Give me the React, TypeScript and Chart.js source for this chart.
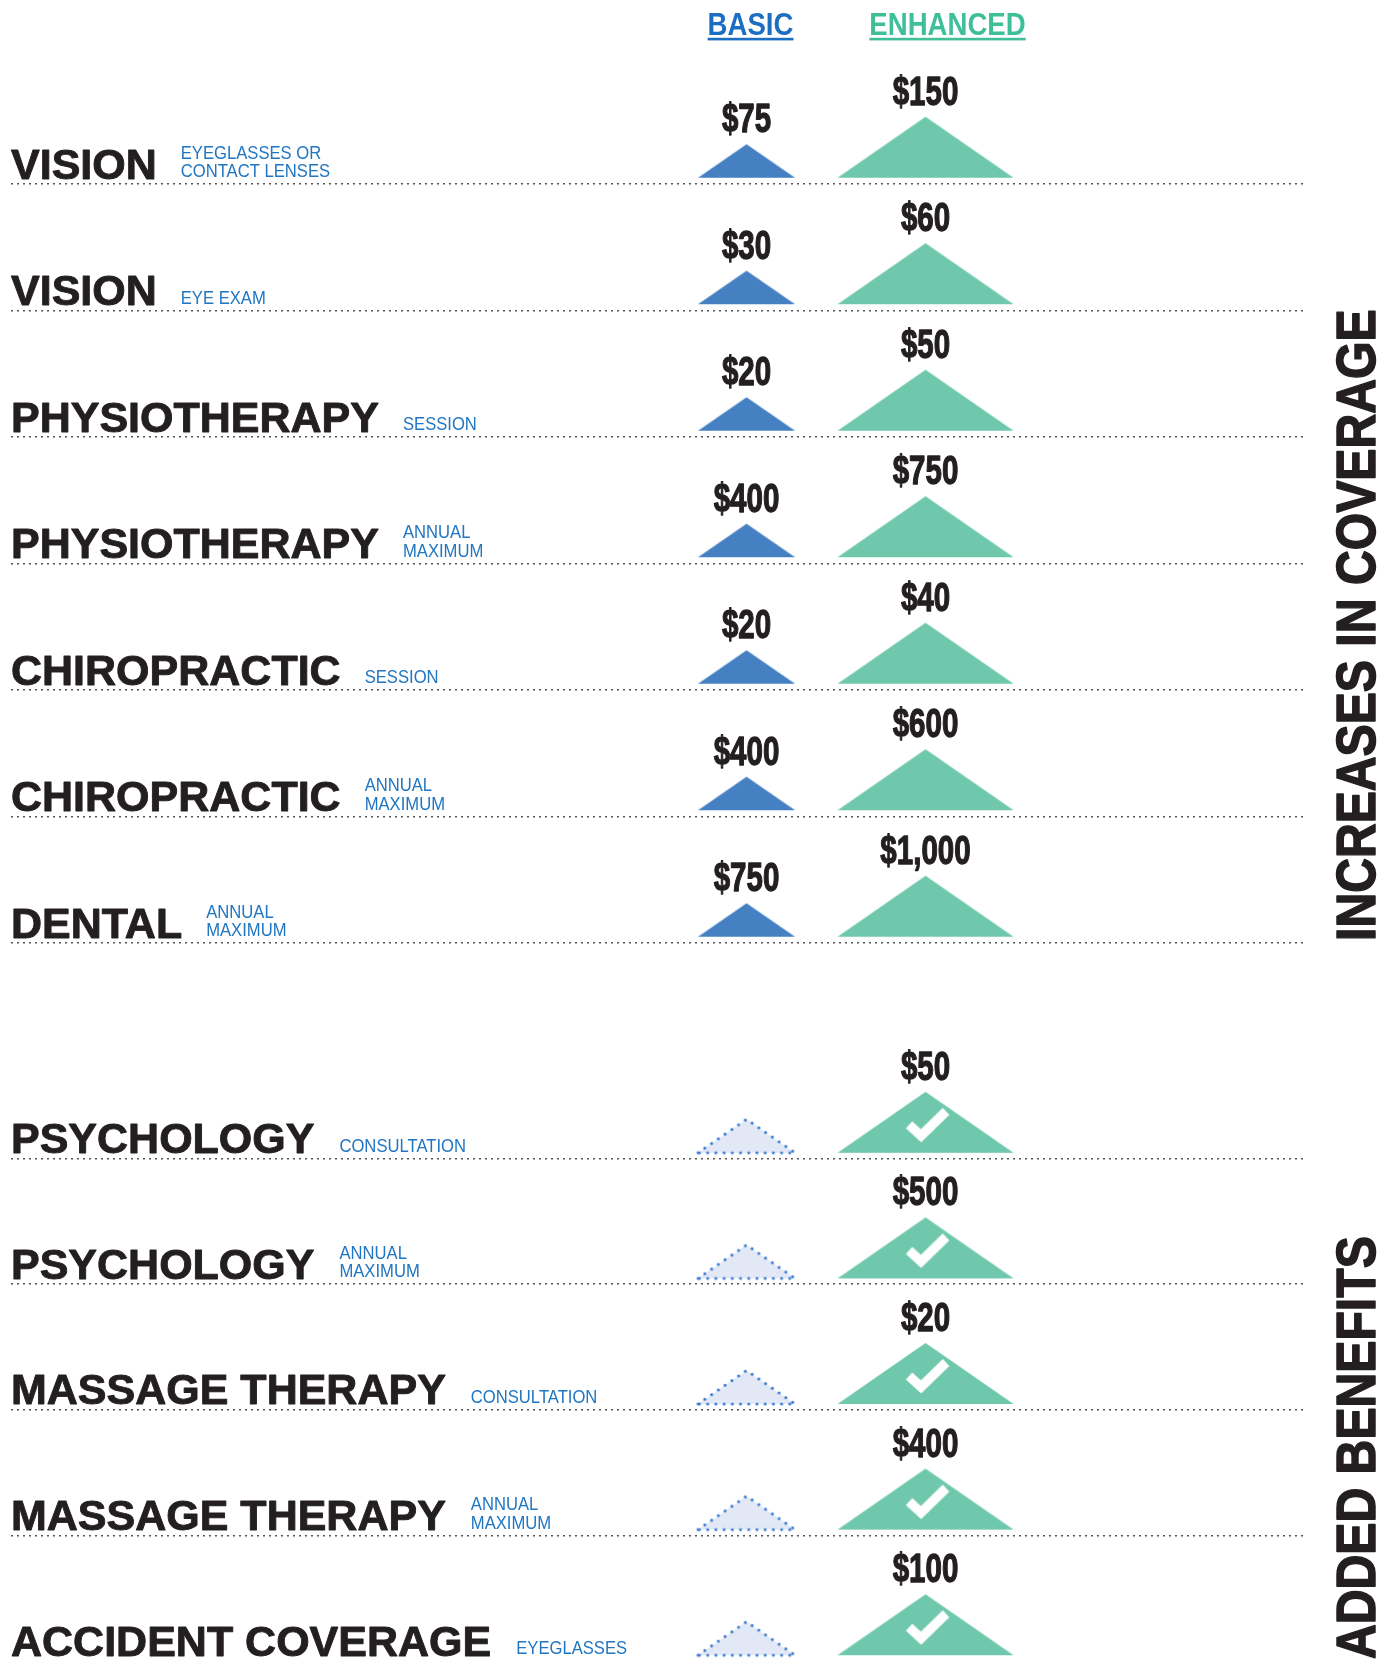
import React, { useEffect, useRef } from 'react';
import { Chart, registerables } from 'chart.js';

Chart.register(...registerables);

// ---------- data ----------
const planLabels = ['BASIC', 'ENHANCED'];
const planHeaderColors = ['#1b6ec2', '#3fbf98'];

const coverageNames = ['VISION', 'VISION', 'PHYSIOTHERAPY', 'PHYSIOTHERAPY', 'CHIROPRACTIC', 'CHIROPRACTIC', 'DENTAL'];
const coverageNotes = [
  ['EYEGLASSES OR', 'CONTACT LENSES'],
  ['EYE EXAM'],
  ['SESSION'],
  ['ANNUAL', 'MAXIMUM'],
  ['SESSION'],
  ['ANNUAL', 'MAXIMUM'],
  ['ANNUAL', 'MAXIMUM'],
];
const coverageBasic: (number | null)[] = [75, 30, 20, 400, 20, 400, 750];
const coverageEnhanced: (number | null)[] = [150, 60, 50, 750, 40, 600, 1000];

const addedNames = ['PSYCHOLOGY', 'PSYCHOLOGY', 'MASSAGE THERAPY', 'MASSAGE THERAPY', 'ACCIDENT COVERAGE'];
const addedNotes = [['CONSULTATION'], ['ANNUAL', 'MAXIMUM'], ['CONSULTATION'], ['ANNUAL', 'MAXIMUM'], ['EYEGLASSES']];
const addedBasic: (number | null)[] = [null, null, null, null, null]; // not covered in basic plan
const addedEnhanced: (number | null)[] = [50, 500, 20, 400, 100];

const sectionTitles = ['INCREASES IN COVERAGE', 'ADDED BENEFITS'];

// ---------- styling ----------
const W = 1387;
const FONT = '"Liberation Sans", Arial, sans-serif';
const INK = '#231f20';
const NOTE_BLUE = '#2176c2';
const BASIC_FILL = '#4580c2';
const ENH_FILL = '#6fc8ac';
const IMG_H = 120;
const BASE = 117;
const TRI = [
  { w: 97, h: 33.5 },
  { w: 176, h: 61 },
];

function triCanvas(w: number, h: number, draw: (g: CanvasRenderingContext2D, cx: number) => void) {
  const c = document.createElement('canvas');
  c.width = Math.ceil((w + 8) / 2) * 2;
  c.height = IMG_H;
  const g = c.getContext('2d')!;
  const cx = c.width / 2;
  g.beginPath();
  g.moveTo(cx - w / 2, BASE);
  g.lineTo(cx, BASE - h);
  g.lineTo(cx + w / 2, BASE);
  g.closePath();
  draw(g, cx);
  return c;
}

function makeImages() {
  const basic = triCanvas(TRI[0].w, TRI[0].h, (g) => {
    g.fillStyle = BASIC_FILL;
    g.fill();
  });
  const empty = triCanvas(TRI[0].w, TRI[0].h, (g) => {
    g.fillStyle = '#e2e8f5';
    g.fill();
    g.strokeStyle = '#3a7bd0';
    g.lineWidth = 3;
    g.lineCap = 'round';
    g.setLineDash([0.01, 8.2]);
    g.stroke();
  });
  const enh = triCanvas(TRI[1].w, TRI[1].h, (g) => {
    g.fillStyle = ENH_FILL;
    g.fill();
  });
  const check = triCanvas(TRI[1].w, TRI[1].h, (g, cx) => {
    g.fillStyle = ENH_FILL;
    g.fill();
    g.beginPath();
    g.strokeStyle = '#ffffff';
    g.lineWidth = 9.5;
    g.lineCap = 'butt';
    g.lineJoin = 'miter';
    g.moveTo(cx - 16.5, BASE - 28);
    g.lineTo(cx - 4.5, BASE - 17);
    g.lineTo(cx + 20.5, BASE - 41.5);
    g.stroke();
  });
  return { basic, empty, enh, check };
}

function drawText(
  ctx: CanvasRenderingContext2D,
  s: string,
  x: number,
  y: number,
  font: string,
  color: string,
  sx = 1,
  align: 'left' | 'center' = 'left',
  stroke = 0
) {
  ctx.save();
  ctx.font = font;
  ctx.fillStyle = color;
  ctx.textBaseline = 'alphabetic';
  ctx.textAlign = 'left';
  const w = ctx.measureText(s).width * sx;
  const x0 = align === 'center' ? x - w / 2 : x;
  ctx.translate(x0, y);
  ctx.scale(sx, 1);
  ctx.fillText(s, 0, 0);
  if (stroke > 0) {
    ctx.strokeStyle = color;
    ctx.lineWidth = stroke;
    ctx.lineJoin = 'round';
    ctx.strokeText(s, 0, 0);
  }
  ctx.restore();
  return w;
}

const fmt = (v: number) => '$' + v.toLocaleString('en-US');

const rowTextPlugin = {
  id: 'rowText',
  afterDraw(chart: any) {
    const o = chart.options.plugins.rowText;
    const ctx: CanvasRenderingContext2D = chart.ctx;
    const y = chart.scales.y;
    const x = chart.scales.x;
    const area = chart.chartArea;
    const step = y.getPixelForValue(1) - y.getPixelForValue(0);

    // row labels
    o.names.forEach((name: string, i: number) => {
      const line = y.getPixelForValue(i) + step / 2;
      const w = drawText(ctx, name, area.left, line - 5.5, `bold 43px ${FONT}`, INK, 1, 'left', 0.9);
      const notes: string[] = o.notes[i];
      notes.forEach((t, k) => {
        drawText(ctx, t, area.left + w + o.gap, line - 6.8 - (notes.length - 1 - k) * 18.5, `17.5px ${FONT}`, NOTE_BLUE, 0.95);
      });
    });

    // value labels above each triangle
    [o.basic, o.enhanced].forEach((vals: (number | null)[], d: number) => {
      const meta = chart.getDatasetMeta(d);
      vals.forEach((v, i) => {
        if (v == null) return;
        const pt = meta.data[i];
        const baseY = pt.y + (BASE - IMG_H / 2);
        drawText(ctx, fmt(v), pt.x, baseY - TRI[d].h - 12, `bold 41px ${FONT}`, INK, 0.72, 'center', 1.3);
      });
    });

    // column headers
    if (o.header) {
      const offs = [4, 22];
      planLabels.forEach((lab, d) => {
        const cx = x.getPixelForValue(d) + offs[d];
        const w = drawText(ctx, lab, cx, 35, `bold 31px ${FONT}`, planHeaderColors[d], 0.89, 'center');
        ctx.fillStyle = planHeaderColors[d];
        ctx.fillRect(cx - w / 2, 37.8, w, 2.6);
      });
    }

    // vertical section title
    ctx.save();
    ctx.translate(area.right + 70, area.bottom - 2);
    ctx.rotate(-Math.PI / 2);
    ctx.scale(0.86, 1);
    ctx.font = `bold 56px ${FONT}`;
    ctx.fillStyle = INK;
    ctx.textAlign = 'left';
    ctx.textBaseline = 'alphabetic';
    ctx.fillText(o.title, 0, 0);
    ctx.strokeStyle = INK;
    ctx.lineWidth = 1.5;
    ctx.lineJoin = 'round';
    ctx.strokeText(o.title, 0, 0);
    ctx.restore();
  },
};

function buildConfig(p: any, imgs: any): any {
  const keys = p.names.map((n: string, i: number) => `${n} — ${p.notes[i].join(' ')}`);
  return {
    type: 'scatter',
    data: {
      labels: keys,
      datasets: [
        {
          label: planLabels[0],
          data: p.basic.map((_v: any, i: number) => ({ x: 0, y: keys[i] })),
          pointStyle: p.basic.map((v: any) => (v == null ? imgs.empty : imgs.basic)),
          clip: false,
        },
        {
          label: planLabels[1],
          data: p.enhanced.map((_v: any, i: number) => ({ x: 1, y: keys[i] })),
          pointStyle: p.enhanced.map(() => (p.added ? imgs.check : imgs.enh)),
          clip: false,
        },
      ],
    },
    options: {
      animation: false,
      responsive: false,
      events: [],
      layout: { padding: { left: 11, right: 82, top: p.padTop, bottom: p.padBottom } },
      scales: {
        x: { type: 'linear', min: -4.109, max: 3.12, display: false },
        y: {
          type: 'category',
          labels: keys,
          offset: true,
          grid: {
            offset: true,
            drawTicks: false,
            lineWidth: 1.6,
            color: (c: any) =>
              c.index === 0 || (p.hideLast && c.index === undefined) ? 'rgba(0,0,0,0)' : '#555658',
          },
          border: { display: false, dash: [2, 4] },
          ticks: { display: false },
        },
      },
      plugins: {
        legend: { display: false },
        tooltip: { enabled: false },
        rowText: {
          names: p.names,
          notes: p.notes,
          basic: p.basic,
          enhanced: p.enhanced,
          gap: p.gap,
          header: p.header,
          title: p.title,
        },
      },
    },
    plugins: [rowTextPlugin],
  };
}

export default function App() {
  const topRef = useRef<HTMLCanvasElement>(null);
  const botRef = useRef<HTMLCanvasElement>(null);

  useEffect(() => {
    const imgs = makeImages();
    const c1 = new Chart(
      topRef.current!,
      buildConfig(
        {
          names: coverageNames,
          notes: coverageNotes,
          basic: coverageBasic,
          enhanced: coverageEnhanced,
          padTop: 57.5,
          padBottom: 57,
          gap: 24,
          header: true,
          added: false,
          hideLast: false,
          title: sectionTitles[0],
        },
        imgs
      )
    );
    const c2 = new Chart(
      botRef.current!,
      buildConfig(
        {
          names: addedNames,
          notes: addedNotes,
          basic: addedBasic,
          enhanced: addedEnhanced,
          padTop: 33,
          padBottom: 0.5,
          gap: 25,
          header: false,
          added: true,
          hideLast: true,
          title: sectionTitles[1],
        },
        imgs
      )
    );
    return () => {
      c1.destroy();
      c2.destroy();
    };
  }, []);

  return (
    <div style={{ position: 'absolute', left: 0, top: 0, width: W, height: 1666, background: '#fff', overflow: 'hidden' }}>
      <canvas ref={topRef} width={W} height={1000} style={{ position: 'absolute', left: 0, top: 0, display: 'block' }} />
      <canvas ref={botRef} width={W} height={666} style={{ position: 'absolute', left: 0, top: 1000, display: 'block' }} />
    </div>
  );
}
